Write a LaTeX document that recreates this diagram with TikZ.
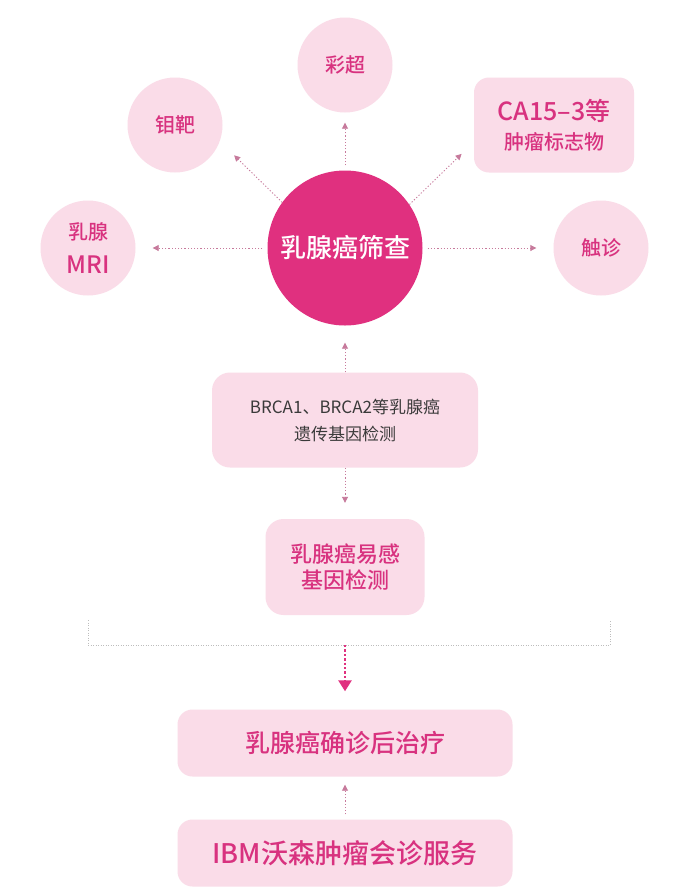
\documentclass[tikz,border=0pt]{standalone}
\usepackage{fontspec}
\setmainfont{Noto Sans CJK SC}[BoldFont={Noto Sans CJK SC Medium}]
\usetikzlibrary{arrows.meta, positioning}
\definecolor{rosedeep}{HTML}{E0307F}
\definecolor{rosetext}{HTML}{D8327F}
\definecolor{roselight}{HTML}{FADCE8}
\definecolor{roseline}{HTML}{C77A9C}
\definecolor{greytext}{HTML}{3A3A3A}
\definecolor{greyline}{HTML}{BDBDBD}

\begin{document}
\begin{tikzpicture}[
  x=1pt, y=-1pt,
  exam/.style={circle, fill=roselight, minimum size=95pt, inner sep=0pt,
               align=center, text=rosetext, font=\fontsize{20}{34}\selectfont\bfseries},
  stepbox/.style={rounded corners=18pt, fill=roselight, inner sep=0pt,
               align=center, text=rosetext},
  link/.style={draw=roseline, line width=0.9pt, dash pattern=on 1.2pt off 2pt,
               -{Triangle[width=6pt, length=6pt]}},
  mainlink/.style={draw=rosedeep, line width=2.6pt, dash pattern=on 2.4pt off 2pt,
               -{Triangle[width=13pt, length=11pt]}}
]
  \useasboundingbox[fill=white] (0,0) rectangle (684,895);

  % screening hub and methods
  \node[circle, fill=rosedeep, minimum size=155pt, inner sep=0pt, text=white,
        font=\fontsize{26}{30}\selectfont\bfseries] (screen) at (345,248) {乳腺癌筛查};
  \node[exam] (doppler) at (345,65)  {彩超};
  \node[exam] (mammo)   at (175,125) {钼靶};
  \node[exam] (mri)     at (88,248)  {乳腺\\\fontsize{24}{34}\selectfont MRI};
  \node[exam] (palp)    at (601,248) {触诊};
  \node[stepbox, minimum width=160pt, minimum height=95pt, rounded corners=15pt,
        font=\fontsize{20}{29}\selectfont\bfseries] (marker) at (554,125)
        {\fontsize{25}{29}\selectfont CA15–3等\\肿瘤标志物};

  \draw[link, shorten <=5pt, shorten >=17pt] (screen) -- (mri);
  \draw[link, shorten <=5pt, shorten >=17pt] (screen) -- (palp);
  \draw[link, shorten <=5pt, shorten >=10pt] (screen) -- (doppler);
  \draw[link, shorten >=20pt] (screen.144) -- (mammo.-20);
  \draw[link, shorten >=17pt] (screen.34) -- (marker.192);

  % gene tests
  \node[stepbox, minimum width=266pt, minimum height=95pt, text=greytext,
        font=\fontsize{17}{27}\selectfont] (brca) at (345,420)
        {BRCA1、BRCA2等乳腺癌\\遗传基因检测};
  \node[stepbox, minimum width=159pt, minimum height=96pt,
        font=\fontsize{22}{26}\selectfont\bfseries] (suscept) at (345,567)
        {乳腺癌易感\\基因检测};

  \draw[link, shorten >=17pt] (brca) -- (screen);
  \draw[link, shorten >=16pt] (brca) -- (suscept);

  % bracket and treatment
  \coordinate (brleft)  at (88,620);
  \coordinate (brright) at (610,620);
  \coordinate (merge)   at (345,645);
  \draw[greyline, line width=1pt, dash pattern=on 1pt off 1.5pt]
       (brleft) |- (merge) -| (brright);

  \node[stepbox, minimum width=335pt, minimum height=67pt, rounded corners=15pt,
        font=\fontsize{25}{28}\selectfont\bfseries] (treat) at (345,743) {乳腺癌确诊后治疗};
  \node[stepbox, minimum width=335pt, minimum height=67pt, rounded corners=15pt,
        font=\fontsize{27}{30}\selectfont\bfseries] (watson) at (345,853) {IBM沃森肿瘤会诊服务};

  \draw[mainlink, shorten >=18pt] (merge) -- (treat);
  \draw[link, shorten <=5pt, shorten >=8pt] (watson) -- (treat);
\end{tikzpicture}
\end{document}
